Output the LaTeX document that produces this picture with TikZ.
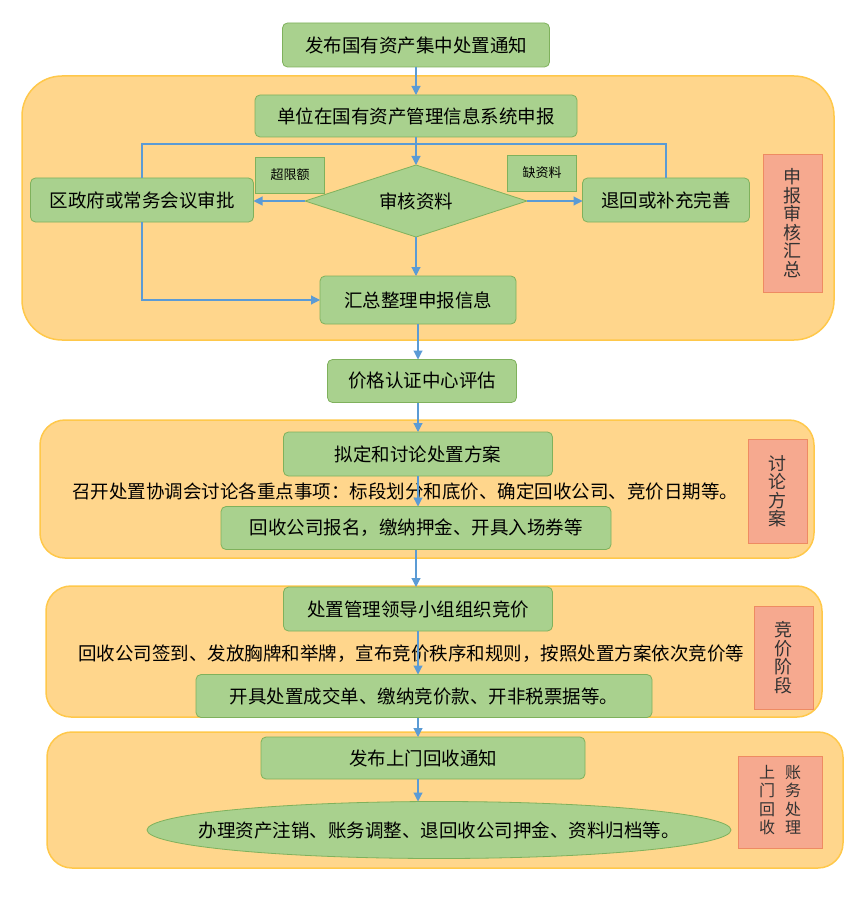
\documentclass[tikz,border=0pt]{standalone}
\usepackage{fontspec}
\setmainfont{Noto Sans CJK SC}
\usetikzlibrary{positioning,shapes.geometric,arrows.meta}
\definecolor{boxfill}{HTML}{A9D18E}
\definecolor{boxline}{HTML}{7FB15C}
\definecolor{groupbg}{HTML}{FFD68C}
\definecolor{groupline}{HTML}{FFC84A}
\definecolor{sidebg}{HTML}{F6A98F}
\definecolor{sideline}{HTML}{EE8B62}
\definecolor{arrowblue}{HTML}{5B9BD5}

\begin{document}
\begin{tikzpicture}[
    x=1pt, y=-1pt,
 mybox/.style = {
        draw=boxline, fill=boxfill, rectangle, rounded corners=5pt,
        line width=0.8pt, inner sep=0pt, outer sep=0pt,
        font=\fontsize{18.5}{22}\selectfont},
 mydiamond/.style = {
        draw=boxline, fill=boxfill, diamond, aspect=3, line width=0.8pt,
        inner sep=0pt, outer sep=0pt,
        font=\fontsize{18.5}{22}\selectfont},
 myellipse/.style = {
        draw=boxline, fill=boxfill, ellipse, line width=0.8pt,
        inner sep=0pt, outer sep=0pt},
 tag/.style = {
        draw=boxline, fill=boxfill, rectangle, line width=0.8pt,
        minimum width=69pt, minimum height=36pt, inner sep=0pt,
        font=\fontsize{13}{15}\selectfont},
 note/.style = {
        inner sep=0pt, font=\fontsize{18.5}{22}\selectfont},
 side/.style = {
        draw=sideline, fill=sidebg, rectangle, line width=0.8pt,
        align=center, inner sep=0pt, minimum width=59pt,
        font=\fontsize{18}{18.5}\selectfont, text=black!80},
 group/.style = {
        draw=groupline, fill=groupbg, line width=1.5pt},
 arrow/.style = {draw=arrowblue, line width=1.1pt,
        -{Triangle[length=9pt,width=9pt]}},
 link/.style = {draw=arrowblue, line width=1.1pt}
                    ]
\useasboundingbox (0,0) rectangle (852,904);
% the stage backgrounds
\draw[group, rounded corners=40pt] (22,76) rectangle (834,340);
\draw[group, rounded corners=25pt] (40,420) rectangle (814,558);
\draw[group, rounded corners=25pt] (46,586) rectangle (822,717);
\draw[group, rounded corners=25pt] (47,732) rectangle (843,868);

% the first stage
\node (notice) [mybox, minimum width=267pt, minimum height=44pt] at (416,45) {发布国有资产集中处置通知};
\node (report) [mybox, minimum width=322pt, minimum height=42pt] at (416,116) {单位在国有资产管理信息系统申报};
\node (check)  [mydiamond, minimum width=222pt, minimum height=72pt] at (416,201) {审核资料};
\node (gov)    [mybox, minimum width=223pt, minimum height=44pt] at (142,200) {区政府或常务会议审批};
\node (back)   [mybox, minimum width=167pt, minimum height=44pt] at (666,200) {退回或补充完善};
\node (over)   [tag] at (290,175) {超限额};
\node (lack)   [tag] at (542,173) {缺资料};
\node (sum)    [mybox, minimum width=196pt, minimum height=48pt] at (418,300) {汇总整理申报信息};
\node (side1)  [side, minimum height=138pt] at (792.5,223) {申\\报\\审\\核\\汇\\总};
\coordinate (loop) at (416,144);

% price check
\node (price)  [mybox, minimum width=189pt, minimum height=43pt] at (422,381) {价格认证中心评估};

% the second stage
\node (plan)   [mybox, minimum width=269pt, minimum height=44pt] at (418,454) {拟定和讨论处置方案};
\node (meet)   [note] at (405,491) {召开处置协调会讨论各重点事项：标段划分和底价、确定回收公司、竞价日期等。};
\node (sign)   [mybox, minimum width=390pt, minimum height=43pt] at (416,528) {回收公司报名，缴纳押金、开具入场券等};
\node (side2)  [side, minimum height=104pt] at (777.5,491) {讨\\论\\方\\案};

% the third stage
\node (bid)    [mybox, minimum width=269pt, minimum height=44pt] at (418,609) {处置管理领导小组组织竞价};
\node (rule)   [note] at (411,654) {回收公司签到、发放胸牌和举牌，宣布竞价秩序和规则，按照处置方案依次竞价等};
\node (deal)   [mybox, minimum width=456pt, minimum height=43pt] at (424,696) {开具处置成交单、缴纳竞价款、开非税票据等。};
\node (side3)  [side, minimum height=103pt] at (783.5,657.5) {竞\\价\\阶\\段};

% the last stage
\node (fetch)  [mybox, minimum width=324pt, minimum height=42pt] at (423,758) {发布上门回收通知};
\node (close)  [myellipse, minimum width=584pt, minimum height=57pt,
                label={[note]center:办理资产注销、账务调整、退回收公司押金、资料归档等。}] at (439,830) {};
\node (side4)  [side, minimum width=84pt, minimum height=92pt, font=\fontsize{16}{17}\selectfont] at (780,802)
               {\begin{tabular}{@{}c@{\hspace{10pt}}c@{}}上&账\\门&务\\回&处\\收&理\end{tabular}};

% the connectors
\draw[arrow] (notice.south) -- (notice.south |- report.north);
\draw[arrow] (report.south) -- (check.north);
\draw[arrow] (check.west) -- (check.west -| gov.east);
\draw[arrow] (check.east) -- (check.east -| back.west);
\draw[link]  (gov.north) |- (loop) -| (back.north);
\draw[arrow] (gov.south) |- (sum.west);
\draw[arrow] (check.south) -- (check.south |- sum.north);
\draw[arrow] (sum.south) -- (sum.south |- price.north);
\draw[arrow] (price.south -| sum.south) -- (sum.south |- plan.north);
\draw[arrow] (plan.south) -- (plan.south |- sign.north);
\draw[arrow] (sign.south) -- (sign.south |- bid.north);
\draw[arrow] (bid.south) -- (bid.south |- deal.north);
\draw[arrow] (deal.south -| bid.south) -- (bid.south |- fetch.north);
\draw[arrow] (fetch.south -| bid.south) -- (bid.south |- close.north);
\end{tikzpicture}
\end{document}
